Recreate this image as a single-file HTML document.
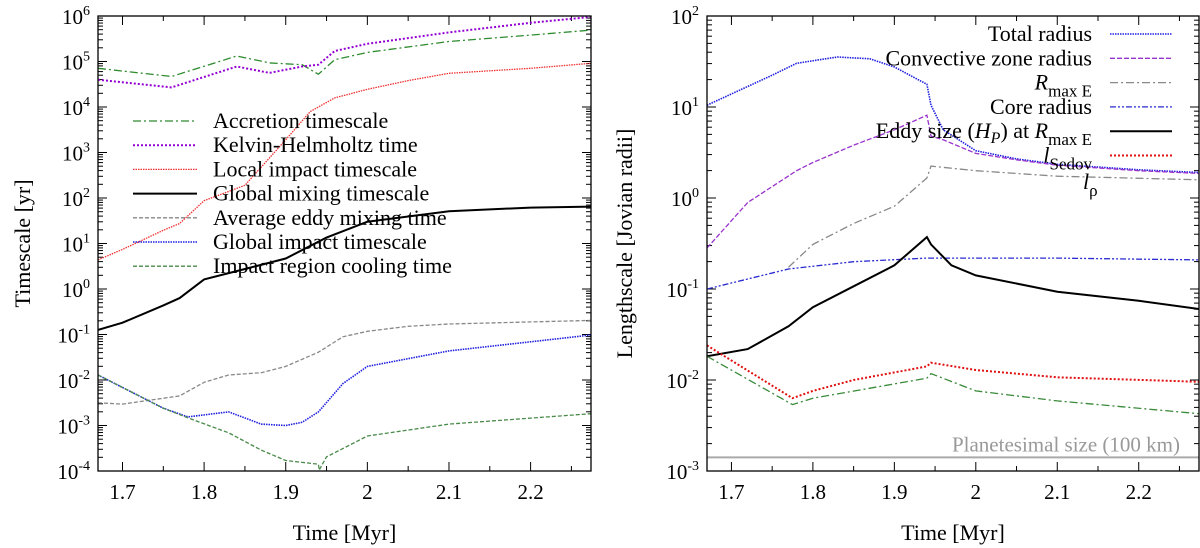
<!DOCTYPE html>
<html><head><meta charset="utf-8"><style>
html,body{margin:0;padding:0;background:#fff;}
svg{display:block;font-family:"Liberation Serif",serif;}
</style></head><body>
<svg id="chart" width="1200" height="548" viewBox="0 0 1200 548" xmlns="http://www.w3.org/2000/svg"></svg>
<script>
// ---- Left panel data (log10 of timescale in yr) ----
const accT=[1.67,1.76,1.84,1.88,1.92,1.94,1.96,2.0,2.1,2.2,2.274];
const accV=[4.85,4.67,5.12,4.97,4.93,4.72,5.04,5.2,5.44,5.58,5.69];
const khT=[1.67,1.76,1.84,1.88,1.92,1.94,1.96,2.0,2.1,2.2,2.274];
const khV=[4.6,4.43,4.89,4.75,4.89,4.93,5.23,5.39,5.64,5.85,5.98];
const locT=[1.67,1.7,1.75,1.77,1.8,1.85,1.9,1.93,1.96,2.0,2.05,2.1,2.2,2.274];
const locV=[0.64,0.87,1.29,1.44,1.94,2.28,3.28,3.9,4.2,4.39,4.58,4.74,4.85,4.96];
const gmixT=[1.67,1.7,1.75,1.77,1.8,1.85,1.9,1.95,2.0,2.1,2.2,2.274];
const gmixV=[-0.9,-0.74,-0.36,-0.2,0.21,0.44,0.67,1.13,1.48,1.71,1.79,1.81];
const eddyT=[1.67,1.7,1.77,1.8,1.83,1.87,1.9,1.94,1.97,2.0,2.05,2.1,2.274];
const eddyV=[-2.5,-2.53,-2.35,-2.05,-1.89,-1.84,-1.7,-1.39,-1.05,-0.93,-0.82,-0.77,-0.69];
const gimpT=[1.67,1.75,1.78,1.83,1.87,1.9,1.92,1.94,1.97,2.0,2.1,2.2,2.274];
const gimpV=[-1.89,-2.62,-2.81,-2.7,-2.97,-3.0,-2.93,-2.7,-2.08,-1.7,-1.36,-1.16,-1.01];
const coolT=[1.67,1.75,1.78,1.83,1.87,1.9,1.94,1.941,1.95,2.0,2.1,2.274];
const coolV=[-1.89,-2.62,-2.83,-3.16,-3.54,-3.77,-3.85,-3.98,-3.69,-3.23,-2.97,-2.74];
// ---- Right panel data (log10 of lengthscale in Jovian radii) ----
const totT=[1.67,1.75,1.78,1.83,1.87,1.9,1.94,1.945,1.96,2.0,2.05,2.1,2.2,2.274];
const totV=[1.02,1.35,1.48,1.55,1.53,1.44,1.25,1.02,0.75,0.52,0.43,0.37,0.31,0.28];
const convT=[1.67,1.72,1.78,1.8,1.85,1.9,1.94,1.945,1.96,2.0,2.05,2.1,2.2,2.274];
const convV=[-0.55,-0.05,0.3,0.39,0.58,0.75,0.91,0.68,0.64,0.49,0.42,0.36,0.3,0.27];
const rmaxT=[1.77,1.8,1.85,1.9,1.94,1.945,2.0,2.1,2.274];
const rmaxV=[-0.76,-0.51,-0.28,-0.09,0.22,0.35,0.3,0.24,0.2];
const coreT=[1.67,1.77,1.85,1.94,2.1,2.274];
const coreV=[-1.0,-0.78,-0.7,-0.66,-0.66,-0.68];
const hpT=[1.67,1.72,1.77,1.8,1.85,1.9,1.94,1.945,1.97,2.0,2.1,2.2,2.274];
const hpV=[-1.74,-1.66,-1.41,-1.2,-0.97,-0.74,-0.43,-0.51,-0.74,-0.85,-1.03,-1.13,-1.22];
const sedT=[1.67,1.775,1.8,1.85,1.94,1.945,2.0,2.1,2.274];
const sedV=[-1.62,-2.2,-2.12,-2.0,-1.85,-1.81,-1.89,-1.97,-2.02];
const rhoT=[1.67,1.775,1.8,1.94,1.945,2.0,2.1,2.274];
const rhoV=[-1.74,-2.27,-2.2,-1.98,-1.93,-2.12,-2.23,-2.37];
const planetesimal=[-2.85];
const xTicks=[1.7,1.8,1.9,2.0,2.1,2.2];
const xTickLabels=["1.7","1.8","1.9","2","2.1","2.2"];

const NS="http://www.w3.org/2000/svg";
const svg=document.getElementById('chart');
function mk(tag,attrs,parent){const e=document.createElementNS(NS,tag);for(const k in attrs)e.setAttribute(k,attrs[k]);(parent||svg).appendChild(e);return e;}

function panel(p){
  const g=mk('g',{});
  
  
  const X=t=>p.x0+(t-1.67)/(2.274-1.67)*(p.x1-p.x0);
  const Y=v=>p.y1-(v-p.lmin)/(p.lmax-p.lmin)*(p.y1-p.y0);
  // ticks
  for(let d=p.lmin;d<=p.lmax;d++){
    const y=Y(d);
    mk('line',{x1:p.x0,y1:y,x2:p.x0+9,y2:y,stroke:'#000','stroke-width':1},g);
    mk('line',{x1:p.x1,y1:y,x2:p.x1-9,y2:y,stroke:'#000','stroke-width':1},g);
    const tl=mk('text',{x:p.x0-8,y:y+8,'text-anchor':'end','font-size':21},g);
    
    
    tl.innerHTML='10<tspan dy="-9" font-size="14">'+d+'</tspan>';
    if(d<p.lmax)for(let m=2;m<=9;m++){const ym=Y(d+Math.log10(m));
      mk('line',{x1:p.x0,y1:ym,x2:p.x0+5,y2:ym,stroke:'#000'},g);
      mk('line',{x1:p.x1,y1:ym,x2:p.x1-5,y2:ym,stroke:'#000'},g);}
  }
  for(let t=1.7;t<2.28;t+=0.05){const x=X(t);const maj=Math.abs(t*10-Math.round(t*10))<0.01;const L=maj?9:5;
    mk('line',{x1:x,y1:p.y1,x2:x,y2:p.y1-L,stroke:'#000'},g);
    mk('line',{x1:x,y1:p.y0,x2:x,y2:p.y0+L,stroke:'#000'},g);}
  xTicks.forEach((t,i)=>{const tl=mk('text',{x:X(t),y:p.y1+28,'text-anchor':'middle','font-size':21},g);
    
    
    tl.textContent=xTickLabels[i];});
  const xt=mk('text',{x:(p.x0+p.x1)/2,y:540,'text-anchor':'middle','font-size':22},g);
  
  
  xt.textContent='Time [Myr]';
  const yt=mk('text',{x:0,y:0,'text-anchor':'middle','font-size':22,transform:`translate(${p.ytx},${(p.y0+p.y1)/2}) rotate(-90)`},g);
  
  
  yt.textContent=p.ytitle;
  const clip=mk('clipPath',{id:'c'+p.name},g);mk('rect',{x:p.x0,y:p.y0,width:p.x1-p.x0,height:p.y1-p.y0},clip);
  const sg=mk('g',{'clip-path':`url(#c${p.name})`},g);
  p.series.forEach(s=>{
    const d=s.t.map((t,i)=>(i?'L':'M')+X(t).toFixed(1)+','+Y(s.v[i]).toFixed(1)).join(' ');
    const path=mk('path',{d:d,fill:'none',stroke:s.c,'stroke-width':s.w||1.3,'stroke-dasharray':s.da||'none'},sg);
    
    
  });
  if(p.extra)p.extra(sg,X,Y);
  mk('rect',{x:p.x0,y:p.y0,width:p.x1-p.x0,height:p.y1-p.y0,fill:'none',stroke:'#000','stroke-width':1.3},g);
  // legend
  p.series.forEach((s,i)=>{ if(!s.label)return; const ly=p.leg.y+i*p.leg.dy;
    const lg=mk('g',{},g);
    
    
    mk('line',{x1:p.leg.lx0,y1:ly,x2:p.leg.lx1,y2:ly,stroke:s.c,'stroke-width':s.w||1.3,'stroke-dasharray':s.da||'none'},lg);
    const tx=mk('text',{x:p.leg.tx,y:ly+7,'text-anchor':p.leg.anchor,'font-size':22},lg);
    tx.innerHTML=s.label;
  });
}

panel({name:'timescale-panel',x0:98,x1:591,y0:16,y1:471,lmin:-4,lmax:6,ytx:30,ytitle:'Timescale [yr]',
  leg:{y:121,dy:24.2,lx0:133,lx1:197,tx:213,anchor:'start'},
  series:[
    {name:'accretion-timescale-line',t:accT,v:accV,c:'#2e8b2e',da:'8,3,2,3',label:'Accretion timescale'},
    {name:'kelvin-helmholtz-line',t:khT,v:khV,c:'#9400d3',da:'2,2',w:2,label:'Kelvin-Helmholtz time'},
    {name:'local-impact-line',t:locT,v:locV,c:'#f03030',da:'1.5,1',label:'Local impact timescale'},
    {name:'global-mixing-line',t:gmixT,v:gmixV,c:'#000',w:2,label:'Global mixing timescale'},
    {name:'eddy-mixing-line',t:eddyT,v:eddyV,c:'#888',da:'4,2',label:'Average eddy mixing time'},
    {name:'global-impact-line',t:gimpT,v:gimpV,c:'#2020e0',da:'1.5,1',w:1.6,label:'Global impact timescale'},
    {name:'cooling-time-line',t:coolT,v:coolV,c:'#4a8a4a',da:'4,2',label:'Impact region cooling time'}
  ]});

panel({name:'lengthscale-panel',x0:707,x1:1199,y0:16,y1:471,lmin:-3,lmax:2,ytx:632,ytitle:'Lengthscale [Jovian radii]',
  leg:{y:34,dy:24.3,lx0:1110,lx1:1172,tx:1092,anchor:'end'},
  series:[
    {name:'total-radius-line',t:totT,v:totV,c:'#2020e0',da:'1.5,1',w:1.6,label:'Total radius'},
    {name:'convective-radius-line',t:convT,v:convV,c:'#9932cc',da:'5,2',label:'Convective zone radius'},
    {name:'rmax-e-line',t:rmaxT,v:rmaxV,c:'#888',da:'8,3,2,3',label:'<tspan font-style="italic">R</tspan><tspan dy="7" font-size="17">max E</tspan>'},
    {name:'core-radius-line',t:coreT,v:coreV,c:'#2a2ad0',da:'6,2,2,2,2,2',label:'Core radius'},
    {name:'eddy-size-line',t:hpT,v:hpV,c:'#000',w:2,label:'Eddy size (<tspan font-style="italic">H<tspan dy="5" font-size="16">P</tspan></tspan><tspan dy="-5">) at </tspan><tspan font-style="italic">R</tspan><tspan dy="7" font-size="17">max E</tspan>'},
    {name:'l-sedov-line',t:sedT,v:sedV,c:'#e01010',da:'2,2',w:2,label:'<tspan font-style="italic">l</tspan><tspan dy="7" font-size="17">Sedov</tspan>'},
    {name:'l-rho-line',t:rhoT,v:rhoV,c:'#3a8a3a',da:'8,3,2,3'}
  ],
  extra:(sg,X,Y)=>{
    const y=Y(planetesimal[0]);
    const l=mk('line',{x1:X(1.67),y1:y,x2:X(2.274),y2:y,stroke:'#aaa','stroke-width':2},sg);
    
    
    const t=mk('text',{x:1180,y:y-6,'text-anchor':'end','font-size':21,fill:'#999'},svg);
    
    
    t.textContent='Planetesimal size (100 km)';
  }});
// l_rho label (no legend line sample)
const lr=mk('text',{x:1083,y:189,'text-anchor':'start','font-size':22});


lr.innerHTML='<tspan font-style="italic">l</tspan><tspan dy="7" font-size="17">ρ</tspan>';
</script>
</body></html>
